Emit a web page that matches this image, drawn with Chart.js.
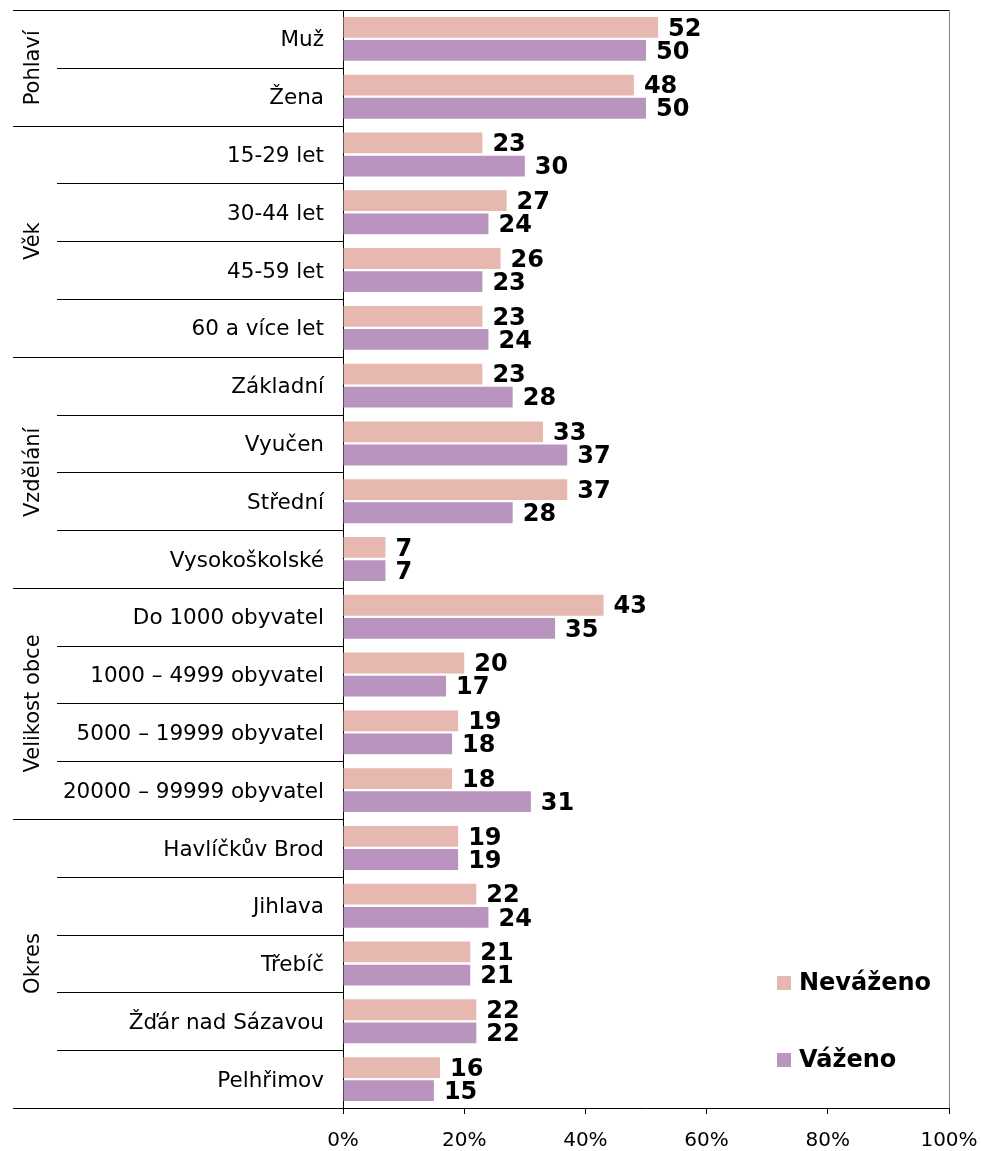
<!DOCTYPE html>
<html>
<head>
<meta charset="utf-8">
<script src="https://cdn.jsdelivr.net/npm/chart.js@4"></script>
<style>
  body { margin: 0; background: #fff; }
  #wrap { width: 981px; height: 1151px; }
</style>
</head>
<body>
<div id="wrap"><canvas id="myChart" width="981" height="1151"></canvas></div>
<script>
const categories = [
    "Muž", "Žena",
    "15-29 let", "30-44 let", "45-59 let", "60 a více let",
    "Základní", "Vyučen", "Střední", "Vysokoškolské",
    "Do 1000 obyvatel", "1000 – 4999 obyvatel", "5000 – 19999 obyvatel", "20000 – 99999 obyvatel",
    "Havlíčkův Brod", "Jihlava", "Třebíč", "Žďár nad Sázavou", "Pelhřimov"
];
const unweighted = [52, 48, 23, 27, 26, 23, 23, 33, 37, 7, 43, 20, 19, 18, 19, 22, 21, 22, 16];
const weighted = [50, 50, 30, 24, 23, 24, 28, 37, 28, 7, 35, 17, 18, 31, 19, 24, 21, 22, 15];
const seriesNames = ["Neváženo", "Váženo"];
const groups = [
    { label: "Pohlaví", from: 0, to: 1 },
    { label: "Věk", from: 2, to: 5 },
    { label: "Vzdělání", from: 6, to: 9 },
    { label: "Velikost obce", from: 10, to: 13 },
    { label: "Okres", from: 14, to: 18 }
];
const xTicks = [0, 20, 40, 60, 80, 100];

const pink = "#e6b8b0";
const purple = "#b894be";
const font = "DejaVu Sans, Verdana, sans-serif";

// draws value labels, group separators, group titles, frame and legend
const decorations = {
    id: "decorations",
    afterDatasetsDraw(chart) {
        const ctx = chart.ctx;

        ctx.save();
        ctx.font = "bold 24px " + font;
        ctx.fillStyle = "#000";
        ctx.textAlign = "left";
        ctx.textBaseline = "middle";
        chart.data.datasets.forEach((ds, di) => {
            chart.getDatasetMeta(di).data.forEach((bar, i) => {
                ctx.fillText(ds.data[i], bar.x + 10, bar.y + 2);
            });
        });
        ctx.restore();
    },
    afterDraw(chart) {
        const ctx = chart.ctx;
        const area = chart.chartArea;
        const y = chart.scales.y;
        const step = y.getPixelForValue(1) - y.getPixelForValue(0);

        ctx.save();
        ctx.strokeStyle = "#000";
        ctx.lineWidth = 1;

        // frame: top and right
        ctx.beginPath();
        ctx.moveTo(13, Math.round(area.top) + 0.5);
        ctx.lineTo(area.right, Math.round(area.top) + 0.5);
        ctx.stroke();
        ctx.strokeStyle = "#808080";
        ctx.beginPath();
        ctx.moveTo(Math.round(area.right) + 0.5, area.top);
        ctx.lineTo(Math.round(area.right) + 0.5, area.bottom);
        ctx.stroke();

        // separators and group titles
        ctx.strokeStyle = "#000";
        groups.forEach(g => {
            for (let i = g.from; i <= g.to; i++) {
                const yy = Math.round(y.getPixelForValue(i) + step / 2) + 0.5;
                const startX = i === g.to ? 13 : 57;
                ctx.beginPath();
                ctx.moveTo(startX, yy);
                ctx.lineTo(area.left, yy);
                ctx.stroke();
            }
            const mid = (y.getPixelForValue(g.from) + y.getPixelForValue(g.to)) / 2;
            ctx.save();
            ctx.translate(34, mid);
            ctx.rotate(-Math.PI / 2);
            ctx.font = "21px " + font;
            ctx.fillStyle = "#000";
            ctx.textAlign = "center";
            ctx.textBaseline = "middle";
            ctx.fillText(g.label, 0, 0);
            ctx.restore();
        });

        // legend
        const colors = [pink, purple];
        const legendY = [area.bottom - 125, area.bottom - 48];
        ctx.font = "bold 24px " + font;
        ctx.textAlign = "left";
        ctx.textBaseline = "middle";
        seriesNames.forEach((name, i) => {
            ctx.fillStyle = colors[i];
            ctx.fillRect(777, legendY[i] - 7, 14, 14);
            ctx.fillStyle = "#000";
            ctx.fillText(name, 799, legendY[i] + 1);
        });
        ctx.restore();
    }
};

const ctx = document.getElementById("myChart").getContext("2d");

new Chart(ctx, {
    type: "bar",
    data: {
        labels: categories,
        datasets: [
            {
                label: seriesNames[0],
                data: unweighted,
                backgroundColor: pink,
                categoryPercentage: 0.8,
                barPercentage: 0.9
            },
            {
                label: seriesNames[1],
                data: weighted,
                backgroundColor: purple,
                categoryPercentage: 0.8,
                barPercentage: 0.9
            }
        ]
    },
    options: {
        indexAxis: "y",
        responsive: false,
        animation: false,
        layout: {
            padding: { top: 10, right: 32, left: 0, bottom: 0 }
        },
        plugins: {
            legend: { display: false },
            tooltip: { enabled: false }
        },
        scales: {
            x: {
                min: 0,
                max: 100,
                afterBuildTicks(axis) {
                    axis.ticks = xTicks.map(v => ({ value: v }));
                },
                afterFit(axis) {
                    axis.height = 43;
                    axis.paddingLeft = 0;
                    axis.paddingRight = 0;
                },
                grid: {
                    drawOnChartArea: false,
                    drawTicks: true,
                    tickLength: 6,
                    color: "#000"
                },
                border: { color: "#000" },
                ticks: {
                    color: "#000",
                    font: { family: font, size: 20 },
                    padding: 15,
                    maxRotation: 0,
                    callback: v => v + "%"
                }
            },
            y: {
                afterFit(axis) {
                    axis.width = 343;
                    axis.paddingTop = 0;
                    axis.paddingBottom = 0;
                },
                grid: {
                    display: true,
                    drawOnChartArea: false,
                    drawTicks: false
                },
                border: { color: "#000" },
                ticks: {
                    color: "#000",
                    font: { family: font, size: 21.5 },
                    padding: 19,
                    labelOffset: 2
                }
            }
        }
    },
    plugins: [decorations]
});
</script>
</body>
</html>
